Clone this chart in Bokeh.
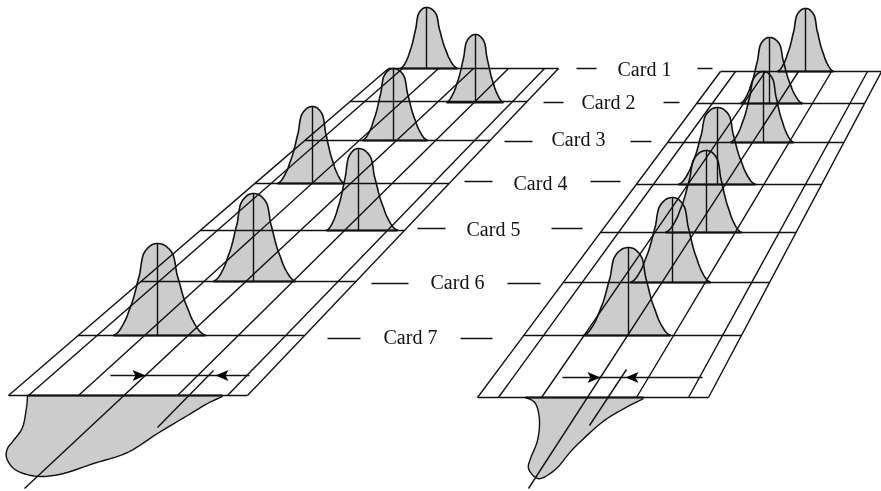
from bokeh.plotting import figure
from bokeh.models import Range1d
from bokeh.embed import file_html
from bokeh.resources import INLINE
from bokeh.core.properties import value

W, H = 881, 491
GRAY = "#cccccc"
INK = "#111111"

# Card labels
cards = ["Card 1", "Card 2", "Card 3", "Card 4", "Card 5", "Card 6", "Card 7"]
label_x = [617, 581, 551, 513, 466, 430, 383]
label_y = [68, 101, 138, 182, 228, 281, 336]
dash_l0 = [576, 543, 504, 464, 417, 371, 327]
dash_l1 = [596, 563, 532, 492, 445, 408, 360]
dash_l_y = [68, 102, 141, 181, 228, 283, 338]
dash_r0 = [697, 663, 630, 590, 551, 507, 460]
dash_r1 = [712, 679, 651, 620, 582, 540, 492]
dash_r_y = [68, 102, 141, 181, 228, 283, 338]

# Left sheet
L_row_y = [68, 101, 140, 183, 230, 281, 335, 395]
L_bottom = [8, 28, 78, 24, 177, 227, 247]
L_bottom_y = [395, 395, 395, 488, 395, 395, 395]
L_top = [388, 402, 438, 473, 508, 544, 558]
L_center = [426, 475, 393, 312, 358, 253, 157]
L_base = [68, 102, 140, 183, 230, 281, 335]
L_peak = [7, 34, 68, 106, 148, 193, 243]
L_foot_l = [400, 446, 362, 277, 326, 213, 113]
L_foot_r = [457, 503, 427, 344, 397, 295, 205]
L_tail_x = [27, 26, 22, 13, 7, 6, 12, 23, 40, 63, 93, 127, 157, 187, 207, 222]
L_tail_y = [395, 407, 427, 440, 448, 457, 467, 473, 476, 473, 463, 452, 433, 415, 403, 396]
L_short = ([157, 213], [427, 370])
L_arrow = ([110, 249], [375, 375])
L_tips = [145, 215]

# Right sheet
R_row_y = [71, 103, 142, 184, 232, 282, 335, 397]
R_bottom = [477, 498, 541, 528, 636, 688, 708]
R_bottom_y = [397, 397, 397, 488, 397, 397, 397]
R_top = [720, 735, 765, 798, 831, 867, 881]
R_center = [805, 769, 763, 717, 706, 672, 628]
R_base = [71, 103, 142, 184, 232, 282, 335]
R_peak = [8, 37, 71, 107, 150, 197, 247]
R_foot_l = [777, 740, 730, 678, 665, 630, 583]
R_foot_r = [833, 802, 793, 755, 741, 710, 670]
R_tail_x = [525, 535, 539, 537, 530, 528, 535, 543, 557, 573, 600, 620, 643]
R_tail_y = [397, 403, 420, 440, 458, 468, 477, 477, 467, 448, 423, 410, 398]
R_short = ([589, 626], [425, 369])
R_arrow = ([562, 702], [377, 377])
R_tips = [600, 625]

# Outline of one hump, as read from the largest one
shape_u = [0, .08, .15, .2, .26, .30, .33, .35, .37, .40, .45, .51, .57, .64, .70, .77, .85, .92, 1]
shape_v = [1, .995, .98, .96, .93, .9, .87, .83, .78, .68, .587, .47, .37, .28, .2, .13, .065, .025, 0]


def smooth(xs, ys, n=6):
    """Round a read outline into a curve (Catmull-Rom through the read points)."""
    px = [xs[0]] + list(xs) + [xs[-1]]
    py = [ys[0]] + list(ys) + [ys[-1]]
    ox, oy = [], []
    for i in range(1, len(px) - 2):
        for k in range(n):
            t = k / n
            for src, out in ((px, ox), (py, oy)):
                a, b, c, d = src[i - 1], src[i], src[i + 1], src[i + 2]
                out.append(.5 * (2 * b + (c - a) * t + (2 * a - 5 * b + 4 * c - d) * t * t
                                 + (3 * b - a - 3 * c + d) * t ** 3))
    ox.append(xs[-1])
    oy.append(ys[-1])
    return ox, oy


def hump(c, base, peak, fl, fr):
    xs = [c - (c - fl) * u for u in reversed(shape_u)] + [c + (fr - c) * u for u in shape_u[1:]]
    ys = [base - (base - peak) * v for v in reversed(shape_v)] + [base - (base - peak) * v for v in shape_v[1:]]
    return xs, ys


p = figure(width=W, height=H, output_backend="svg", toolbar_location=None,
           x_range=Range1d(0, W), y_range=Range1d(H, 0),
           x_axis_location=None, y_axis_location=None,
           min_border=0, outline_line_color=None,
           styles={"position": "fixed", "left": "0px", "top": "0px"})
p.grid.visible = False

sheets = [
    (L_row_y, L_bottom, L_bottom_y, L_top, L_center, L_base, L_peak, L_foot_l, L_foot_r,
     L_tail_x, L_tail_y, L_short, L_arrow, L_tips),
    (R_row_y, R_bottom, R_bottom_y, R_top, R_center, R_base, R_peak, R_foot_l, R_foot_r,
     R_tail_x, R_tail_y, R_short, R_arrow, R_tips),
]

LW = 1.4
for row_y, bot, bot_y, top, cen, base, peak, fl, fr, tx0, ty0, short, arrow, tips in sheets:
    humps = [smooth(*hump(*a), n=3) for a in zip(cen, base, peak, fl, fr)]
    tx, ty = smooth(tx0, ty0)
    p.patches([h[0] for h in humps], [h[1] for h in humps], fill_color=GRAY, line_color=None)
    p.patch(tx, ty, fill_color=GRAY, line_color=None)

    # sheet rows, between the two edge lines
    y0, y1 = row_y[0], row_y[-1]
    left = [bot[0] + (top[0] - bot[0]) * (y1 - y) / (y1 - y0) for y in row_y]
    right = [bot[-1] + (top[-1] - bot[-1]) * (y1 - y) / (y1 - y0) for y in row_y]
    p.multi_line([[a, b] for a, b in zip(left, right)], [[y, y] for y in row_y],
                 line_color=INK, line_width=LW)

    # long lines
    p.multi_line([[b, t] for b, t in zip(bot, top)], [[by, y0] for by in bot_y],
                 line_color=INK, line_width=LW)

    # humps on top
    p.multi_line([h[0] for h in humps], [h[1] for h in humps], line_color=INK, line_width=1.6)
    p.multi_line([[c, c] for c in cen], [[b, k] for b, k in zip(base, peak)],
                 line_color=INK, line_width=LW)
    p.multi_line([[a, b] for a, b in zip(fl, fr)], [[b, b] for b in base],
                 line_color=INK, line_width=1.8)

    # tail outline
    p.line(tx, ty, line_color=INK, line_width=1.4)
    p.line([tx[0], tx[-1]], [y1, y1], line_color=INK, line_width=2)

    p.line(short[0], short[1], line_color=INK, line_width=LW)
    p.line(arrow[0], arrow[1], line_color=INK, line_width=LW)
    ay = arrow[1][0]
    t0, t1 = tips
    p.patches([[t0, t0 - 13, t0 - 10, t0 - 13], [t1, t1 + 13, t1 + 10, t1 + 13]],
              [[ay, ay - 5.5, ay, ay + 5.5]] * 2, fill_color="#000000", line_color=None)

# Label dashes and texts
p.multi_line([[a, b] for a, b in zip(dash_l0, dash_l1)], [[y, y] for y in dash_l_y],
             line_color=INK, line_width=LW)
p.multi_line([[a, b] for a, b in zip(dash_r0, dash_r1)], [[y, y] for y in dash_r_y],
             line_color=INK, line_width=LW)
p.text(label_x, label_y, text=cards, text_font=value("Liberation Serif"),
       text_font_size="20px", text_color="#111111", text_align="left", text_baseline="middle")

open("out.html", "w").write(file_html(p, INLINE))
